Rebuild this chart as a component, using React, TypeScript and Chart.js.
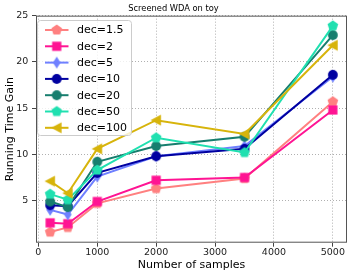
import React, { useEffect, useRef } from 'react';
import { Chart, registerables } from 'chart.js';

Chart.register(...registerables);

const samples = [200, 500, 1000, 2000, 3500, 5000];
const seriesLabels = ['dec=1.5', 'dec=2', 'dec=5', 'dec=10', 'dec=20', 'dec=50', 'dec=100'];
const dec1_5 = [1.6, 2.1, 4.7, 6.3, 7.4, 15.7];
const dec2 = [2.6, 2.5, 4.9, 7.2, 7.5, 14.8];
const dec5 = [4.0, 3.5, 7.6, 9.8, 10.9, 18.4];
const dec10 = [4.5, 4.4, 8.0, 9.8, 10.6, 18.6];
const dec20 = [4.9, 4.3, 9.2, 10.9, 11.9, 22.9];
const dec50 = [5.7, 5.1, 8.3, 11.8, 10.2, 23.9];
const dec100 = [7.1, 5.8, 10.6, 13.7, 12.2, 21.8];
const seriesValues = [dec1_5, dec2, dec5, dec10, dec20, dec50, dec100];
const seriesColors = ['#ff8080', '#ff1493', '#6f80ff', '#0000a0', '#177e6e', '#20e0b0', '#d7b40b'];
const seriesMarkers = ['pentagon', 'square', 'thin_diamond', 'circle', 'circle', 'pentagon', 'triangle_left'];
const xTicks = [0, 1000, 2000, 3000, 4000, 5000];
const yTicks = [5, 10, 15, 20, 25];

const FONT = "'DejaVu Sans', 'Liberation Sans', sans-serif";

function makeMarker(shape: string, color: string): HTMLCanvasElement {
  const c = document.createElement('canvas');
  c.width = 16;
  c.height = 16;
  const ctx = c.getContext('2d')!;
  ctx.fillStyle = color;
  ctx.translate(8, 8);
  ctx.beginPath();
  if (shape === 'pentagon') {
    const r = 5.6;
    for (let k = 0; k < 5; k++) {
      const a = -Math.PI / 2 + (k * 2 * Math.PI) / 5;
      const px = r * Math.cos(a);
      const py = r * Math.sin(a);
      if (k === 0) ctx.moveTo(px, py);
      else ctx.lineTo(px, py);
    }
  } else if (shape === 'square') {
    ctx.rect(-4.6, -4.6, 9.2, 9.2);
  } else if (shape === 'thin_diamond') {
    ctx.moveTo(0, -6);
    ctx.lineTo(3.8, 0);
    ctx.lineTo(0, 6);
    ctx.lineTo(-3.8, 0);
  } else if (shape === 'circle') {
    ctx.arc(0, 0, 4.9, 0, Math.PI * 2);
  } else if (shape === 'triangle_left') {
    ctx.moveTo(-5.6, 0);
    ctx.lineTo(4.8, -5.4);
    ctx.lineTo(4.8, 5.4);
  }
  ctx.closePath();
  ctx.fill();
  return c;
}

export default function App() {
  const canvasRef = useRef<HTMLCanvasElement | null>(null);

  useEffect(() => {
    document.body.style.margin = '0';
    const canvas = canvasRef.current!;
    const markers = seriesMarkers.map((m, i) => makeMarker(m, seriesColors[i]));

    const datasets = seriesLabels.map((label, i) => ({
      label,
      data: samples.map((x, j) => ({ x, y: seriesValues[i][j] })),
      borderColor: seriesColors[i],
      backgroundColor: seriesColors[i],
      borderWidth: 2,
      pointStyle: markers[i] as any,
      pointRadius: 5,
      pointHoverRadius: 5,
      tension: 0,
      order: seriesLabels.length - 1 - i,
    }));

    const framePlugin = {
      id: 'frameAndLegend',
      afterDraw(chart: any) {
        const ctx = chart.ctx as CanvasRenderingContext2D;
        const a = chart.chartArea;
        ctx.save();
        ctx.strokeStyle = '#555555';
        ctx.lineWidth = 1;
        ctx.strokeRect(a.left + 0.5, a.top + 0.5, a.right - a.left - 1, a.bottom - a.top - 1);

        // legend
        const bx = 37.5, by = 20.5, bw = 94, bh = 115;
        const r = 3;
        ctx.beginPath();
        ctx.moveTo(bx + r, by);
        ctx.lineTo(bx + bw - r, by);
        ctx.quadraticCurveTo(bx + bw, by, bx + bw, by + r);
        ctx.lineTo(bx + bw, by + bh - r);
        ctx.quadraticCurveTo(bx + bw, by + bh, bx + bw - r, by + bh);
        ctx.lineTo(bx + r, by + bh);
        ctx.quadraticCurveTo(bx, by + bh, bx, by + bh - r);
        ctx.lineTo(bx, by + r);
        ctx.quadraticCurveTo(bx, by, bx + r, by);
        ctx.closePath();
        ctx.fillStyle = 'rgba(255,255,255,0.8)';
        ctx.fill();
        ctx.strokeStyle = '#cccccc';
        ctx.lineWidth = 1;
        ctx.stroke();

        ctx.font = `11px ${FONT}`;
        ctx.textBaseline = 'middle';
        ctx.textAlign = 'left';
        seriesLabels.forEach((label, i) => {
          const y = 30 + i * 16.3;
          ctx.strokeStyle = seriesColors[i];
          ctx.lineWidth = 2;
          ctx.beginPath();
          ctx.moveTo(45, y);
          ctx.lineTo(68.5, y);
          ctx.stroke();
          const m = markers[i];
          ctx.drawImage(m, 56.7 - m.width / 2, y - m.height / 2);
          ctx.fillStyle = '#000000';
          ctx.fillText(label, 77, y + 0.5);
        });
        ctx.restore();
      },
    };

    const gridOpts = {
      color: '#b0b0b0',
      lineWidth: 1,
      drawTicks: true,
      tickLength: 4,
      tickColor: '#444444',
      tickWidth: 1,
      tickBorderDash: [],
    } as any;

    const chart = new Chart(canvas, {
      type: 'line',
      data: { datasets: datasets as any },
      plugins: [framePlugin],
      options: {
        animation: false,
        responsive: false,
        devicePixelRatio: 1,
        layout: { padding: { left: 0, right: 7, top: 0, bottom: 0 } },
        plugins: {
          legend: { display: false },
          tooltip: { enabled: false },
          title: {
            display: true,
            text: 'Screened WDA on toy',
            color: '#000000',
            font: { family: FONT, size: 8.3, weight: 'normal' },
            padding: { top: 4, bottom: 1.7 },
          },
        },
        scales: {
          x: {
            type: 'linear',
            min: -40,
            max: 5240,
            afterBuildTicks: (scale: any) => {
              scale.ticks = xTicks.map((v) => ({ value: v }));
            },
            afterFit: (scale: any) => {
              scale.height = 33.3;
            },
            ticks: {
              color: '#222222',
              font: { family: FONT, size: 9.5 },
              padding: 0,
              maxRotation: 0,
              autoSkip: false,
              callback: (v: any) => String(v),
            },
            grid: gridOpts,
            border: { display: false, dash: [1, 2] } as any,
            title: {
              display: true,
              text: 'Number of samples',
              color: '#000000',
              font: { family: FONT, size: 11 },
              padding: { top: 0, bottom: 4.4 },
            },
          },
          y: {
            type: 'linear',
            min: 0.45,
            max: 25,
            afterBuildTicks: (scale: any) => {
              scale.ticks = yTicks.map((v) => ({ value: v }));
            },
            afterFit: (scale: any) => {
              scale.width = 36;
            },
            ticks: {
              color: '#222222',
              font: { family: FONT, size: 9.5 },
              padding: 3.7,
              autoSkip: false,
              callback: (v: any) => String(v),
            },
            grid: gridOpts,
            border: { display: false, dash: [1, 2] } as any,
            title: {
              display: true,
              text: 'Running Time Gain',
              color: '#000000',
              font: { family: FONT, size: 11 },
              padding: { top: 3.4, bottom: 0 },
            },
          },
        },
      },
    });

    return () => {
      chart.destroy();
    };
  }, []);

  return (
    <div style={{ position: 'fixed', left: 0, top: 0, width: 354, height: 276 }}>
      <canvas ref={canvasRef} width={354} height={276} />
    </div>
  );
}
